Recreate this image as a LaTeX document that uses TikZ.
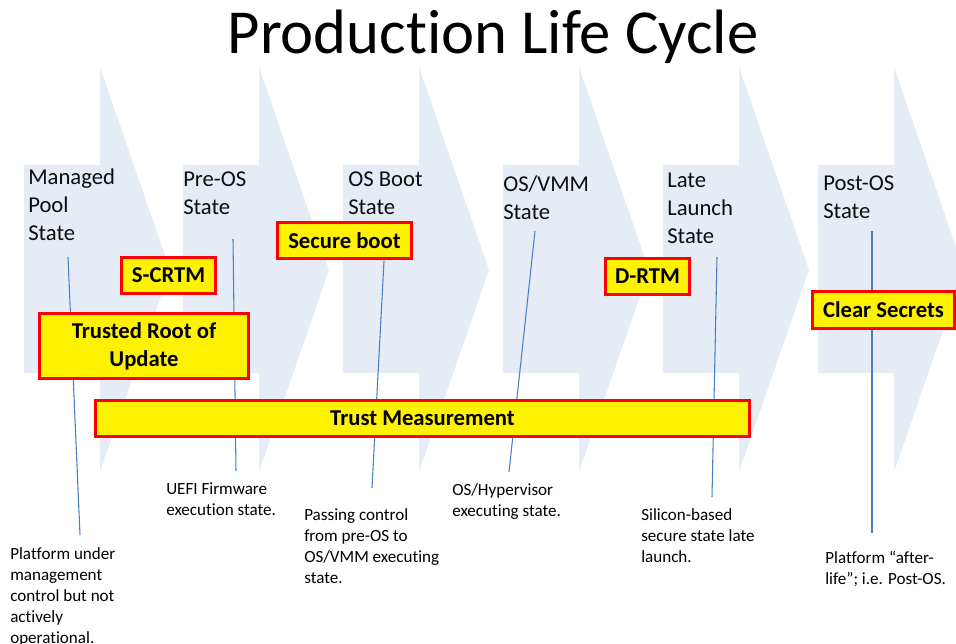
\documentclass[tikz,border=0pt]{standalone}
\usepackage{fontspec}
\setmainfont{Carlito}[Ligatures={TeX,NoCommon,NoContextual,NoRare}, Contextuals=NoAlternate]
\usepackage{xcolor}
\usetikzlibrary{positioning}
\definecolor{chevron}{HTML}{E6ECF5}
\definecolor{leader}{HTML}{4A7EC2}

\begin{document}
\begin{tikzpicture}[x=0.75pt, y=-0.75pt,
  stage/.style={anchor=north west, inner sep=0pt, align=left, text=black!95,
                font=\fontsize{17}{21}\selectfont},
  note/.style={anchor=north west, inner sep=0pt, align=left,
               font=\fontsize{12.8}{15.75}\selectfont},
  tag/.style={draw=red, line width=2.2pt, fill=yellow, align=center, inner sep=1pt,
              font=\bfseries\fontsize{17}{21}\selectfont},
  lead/.style={draw=leader, line width=0.8pt}
]
\clip (0,0) rectangle (956,643);

% chevrons
\foreach \x in {24,183,343,503,663,818}
  \fill[chevron] (\x,165) -- ++(76,0) -- ++(0,-98) -- ++(70,203) -- ++(-70,202)
                 -- ++(0,-99) -- ++(-76,0) -- cycle;

\node[anchor=base, font=\fontsize{47}{50}\selectfont] (title) at (493,53) {Product\kern0pt ion Life Cycle};

% state labels
\node[stage] (managed) at (28,168) {Managed\\Pool\\State};
\node[stage] (preos) at (183,172) {Pre-OS\\State};
\node[stage] (osboot) at (348,172) {OS Boot\\State};
\node[stage] (osvmm) at (503,175) {OS/VMM\\State};
\node[stage] (late) at (667,173) {Late\\Launch\\State};
\node[stage] (postos) at (823,176) {Post-OS\\State};

% descriptions
\node[note] (managedNote) at (10,547) {Platform under\\management\\control but not\\actively\\operational.};
\node[note] (preosNote) at (166,482) {UEFI Firmware\\execution state.};
\node[note] (osbootNote) at (304,508) {Passing control\\from pre-OS to\\OS/VMM executing\\state.};
\node[note] (osvmmNote) at (452,483) {OS/Hypervisor\\executing state.};
\node[note] (lateNote) at (641,508) {Silicon-based\\secure state late\\launch.};
\node[note] (postosNote) at (825,551) {Platform ``after-\\life''; i.e. Post-OS.};

% leader lines
\coordinate (managedTop) at (68,257);  \coordinate (managedEnd) at (80,535);
\coordinate (preosTop) at (233,239);   \coordinate (preosEnd) at (236,471);
\coordinate (osbootTop) at (384,261);  \coordinate (osbootEnd) at (372,488);
\coordinate (osvmmTop) at (535,231);   \coordinate (osvmmEnd) at (509,472);
\coordinate (lateTop) at (717,257);    \coordinate (lateEnd) at (712,497);
\coordinate (postosTop) at (872,231);  \coordinate (postosEnd) at (872,533);
\foreach \s in {managed,preos,osboot,osvmm,late,postos}
  \draw[lead] (\s Top) -- (\s End);

% yellow tags
\node[tag, minimum width=70.5pt, minimum height=27pt] (scrtm) at (168.5,275.5) {S-CRTM};
\node[tag, minimum width=100.5pt, minimum height=27pt] (secureboot) at (344.5,240.5) {Secure boot};
\node[tag, minimum width=156.75pt, minimum height=48.75pt] (rootupdate) at (144,346) {Trusted Root of\\Update};
\node[tag, minimum width=490.5pt, minimum height=27pt] (measure) at (422.5,418.5) {Trust Measurement};
\node[tag, minimum width=63pt, minimum height=27pt] (drtm) at (647.5,276.5) {D-RTM};
\node[tag, minimum width=106.5pt, minimum height=27.75pt] (clearsecrets) at (883.5,310) {Clear Secrets};
\end{tikzpicture}
\end{document}
